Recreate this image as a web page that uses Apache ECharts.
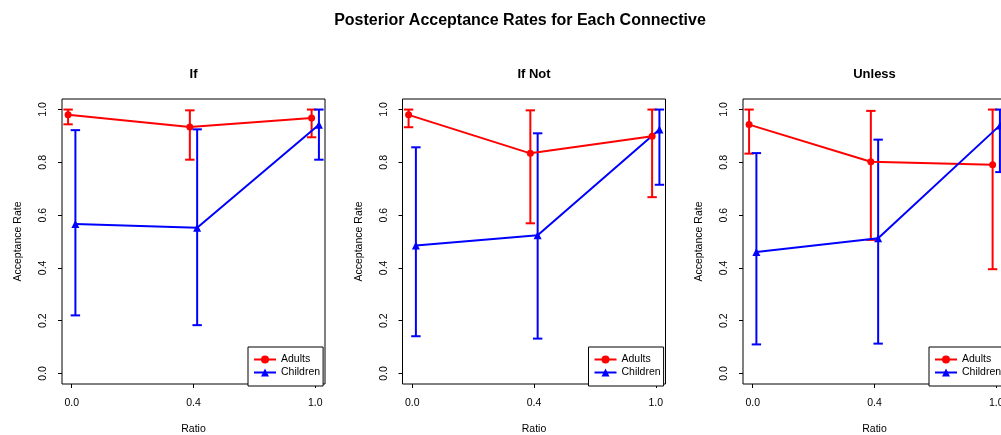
<!DOCTYPE html>
<html>
<head>
<meta charset="utf-8">
<script src="https://cdn.jsdelivr.net/npm/echarts@6/dist/echarts.min.js"></script>
<style>
html,body{margin:0;padding:0;background:#fff;}
#chart{width:1001px;height:435px;}
</style>
</head>
<body>
<div id="chart"></div>
<script>
// ---- data ----
const mainTitle = "Posterior Acceptance Rates for Each Connective";
const panelTitles = ["If", "If Not", "Unless"];
const ratioLabels = ["0.0", "0.4", "1.0"];
const yTicks = [0, 0.2, 0.4, 0.6, 0.8, 1.0];
const groups = ["Adults", "Children"];

const ifAdults = [0.980, 0.934, 0.968];
const ifAdultsLow = [0.944, 0.810, 0.895];
const ifAdultsHigh = [1.000, 0.997, 1.000];
const ifChildren = [0.566, 0.552, 0.942];
const ifChildrenLow = [0.220, 0.183, 0.810];
const ifChildrenHigh = [0.922, 0.925, 1.000];

const ifNotAdults = [0.980, 0.834, 0.899];
const ifNotAdultsLow = [0.933, 0.569, 0.668];
const ifNotAdultsHigh = [1.000, 0.997, 1.000];
const ifNotChildren = [0.485, 0.524, 0.924];
const ifNotChildrenLow = [0.141, 0.132, 0.715];
const ifNotChildrenHigh = [0.857, 0.910, 1.000];

const unlessAdults = [0.943, 0.802, 0.791];
const unlessAdultsLow = [0.833, 0.506, 0.395];
const unlessAdultsHigh = [1.000, 0.995, 1.000];
const unlessChildren = [0.460, 0.512, 0.940];
const unlessChildrenLow = [0.110, 0.113, 0.763];
const unlessChildrenHigh = [0.835, 0.886, 1.000];

// ---- build ----
const panelData = [
  {adults: ifAdults, aLow: ifAdultsLow, aHigh: ifAdultsHigh, children: ifChildren, cLow: ifChildrenLow, cHigh: ifChildrenHigh},
  {adults: ifNotAdults, aLow: ifNotAdultsLow, aHigh: ifNotAdultsHigh, children: ifNotChildren, cLow: ifNotChildrenLow, cHigh: ifNotChildrenHigh},
  {adults: unlessAdults, aLow: unlessAdultsLow, aHigh: unlessAdultsHigh, children: unlessChildren, cLow: unlessChildrenLow, cHigh: unlessChildrenHigh}
];

const RED = '#ff0000', BLUE = '#0000ff';
const FONT = 'Liberation Sans, Arial, sans-serif';
const dodge = 0.03;
const gridLeft = [62, 402.5, 743];
const gridW = 263, gridTop = 99, gridH = 285;

const grids = [], xAxes = [], yAxes = [], series = [], titles = [], legends = [];

titles.push({text: mainTitle, left: 520, top: 13, textAlign: 'center', padding: 0,
  textStyle: {fontFamily: FONT, fontSize: 16, fontWeight: 'bold', color: '#000'}});

function errRender(color) {
  return function (params, api) {
    const x = api.value(0);
    const lo = api.coord([x, api.value(1)]);
    const hi = api.coord([x, api.value(2)]);
    const cap = 4.7;
    const style = {stroke: color, lineWidth: 2};
    return {type: 'group', children: [
      {type: 'line', shape: {x1: lo[0], y1: lo[1], x2: hi[0], y2: hi[1]}, style: style},
      {type: 'line', shape: {x1: lo[0] - cap, y1: lo[1], x2: lo[0] + cap, y2: lo[1]}, style: style},
      {type: 'line', shape: {x1: hi[0] - cap, y1: hi[1], x2: hi[0] + cap, y2: hi[1]}, style: style}
    ]};
  };
}

panelData.forEach((p, i) => {
  grids.push({left: gridLeft[i], top: gridTop, width: gridW, height: gridH, show: true,
    borderColor: '#000', borderWidth: 1, backgroundColor: 'transparent', outerBoundsMode: 'none', containLabel: false});
  titles.push({text: panelTitles[i], left: gridLeft[i] + gridW / 2, top: 68, textAlign: 'center', padding: 0,
    textStyle: {fontFamily: FONT, fontSize: 13, fontWeight: 'bold', color: '#000'}});
  xAxes.push({type: 'value', gridIndex: i, min: 0.92, max: 3.08, position: 'bottom',
    name: 'Ratio', nameLocation: 'middle', nameGap: 40,
    nameTextStyle: {fontFamily: FONT, fontSize: 10.5, color: '#000'},
    axisLine: {show: false, onZero: false}, splitLine: {show: false},
    axisTick: {show: true, length: 4, lineStyle: {color: '#000'}, customValues: [1, 2, 3]},
    axisLabel: {show: true, margin: 14, fontFamily: FONT, fontSize: 10.5, color: '#000',
      customValues: [1, 2, 3], formatter: v => ratioLabels[Math.round(v) - 1]}});
  yAxes.push({type: 'value', gridIndex: i, min: -0.04, max: 1.04, position: 'left',
    name: 'Acceptance Rate', nameLocation: 'middle', nameGap: 38,
    nameTextStyle: {fontFamily: FONT, fontSize: 10.5, color: '#000'},
    axisLine: {show: false, onZero: false}, splitLine: {show: false},
    axisTick: {show: true, length: 4, lineStyle: {color: '#000'}, customValues: yTicks},
    axisLabel: {show: true, rotate: 90, margin: 13, fontFamily: FONT, fontSize: 10.5, color: '#000',
      customValues: yTicks, formatter: v => v.toFixed(1)}});

  const aPts = p.adults.map((v, k) => [k + 1 - dodge, v]);
  const cPts = p.children.map((v, k) => [k + 1 + dodge, v]);
  series.push({type: 'line', name: groups[0], xAxisIndex: i, yAxisIndex: i, data: aPts,
    symbol: 'circle', symbolSize: 7, color: RED, lineStyle: {color: RED, width: 2},
    itemStyle: {color: RED}, animation: false, z: 3});
  series.push({type: 'line', name: groups[1], xAxisIndex: i, yAxisIndex: i, data: cPts,
    symbol: 'triangle', symbolSize: 8, color: BLUE, lineStyle: {color: BLUE, width: 2},
    itemStyle: {color: BLUE}, animation: false, z: 3});
  series.push({type: 'custom', name: 'err' + groups[0] + i, xAxisIndex: i, yAxisIndex: i,
    data: p.adults.map((v, k) => [k + 1 - dodge, p.aLow[k], p.aHigh[k]]),
    encode: {x: 0, y: [1, 2]}, renderItem: errRender(RED), animation: false, z: 2, silent: true});
  series.push({type: 'custom', name: 'err' + groups[1] + i, xAxisIndex: i, yAxisIndex: i,
    data: p.children.map((v, k) => [k + 1 + dodge, p.cLow[k], p.cHigh[k]]),
    encode: {x: 0, y: [1, 2]}, renderItem: errRender(BLUE), animation: false, z: 2, silent: true});

  legends.push({data: groups,
    left: gridLeft[i] + 186, top: 347, orient: 'vertical',
    backgroundColor: '#fff', borderColor: '#000', borderWidth: 1, borderRadius: 0,
    padding: [7, 3, 8, 5], itemGap: 2, itemWidth: 22, itemHeight: 10,
    textStyle: {fontFamily: FONT, fontSize: 10.5, color: '#000'},
    selectedMode: false, z: 10});
});

const chart = echarts.init(document.getElementById('chart'), null, {renderer: 'canvas'});
chart.setOption({
  backgroundColor: '#fff',
  animation: false,
  title: titles,
  grid: grids,
  xAxis: xAxes,
  yAxis: yAxes,
  legend: legends,
  series: series
});
</script>
</body>
</html>
